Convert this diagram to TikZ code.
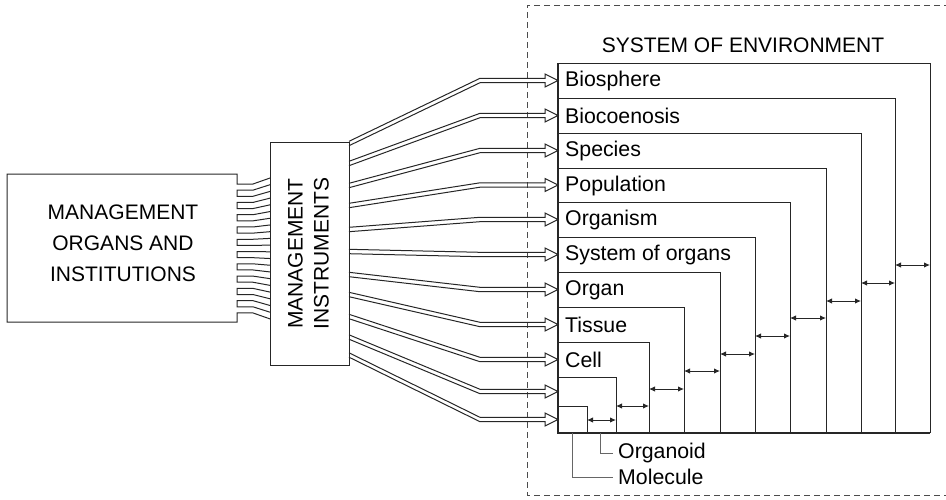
\documentclass[tikz,border=0pt]{standalone}
\usepackage{fontspec}
\setmainfont{Liberation Sans}
\usetikzlibrary{arrows.meta}
\begin{document}
\begin{tikzpicture}[x=1pt,y=-1pt,
  wire/.style={line width=1pt, line join=miter, black!85},
  lbl/.style={font=\fontsize{21}{25}\selectfont, inner sep=0pt, text=black},
  rowlbl/.style={lbl, font=\fontsize{21.3}{25}\selectfont},
  gaparrow/.style={line width=1pt, black!85,
    {Latex[length=6pt,width=5.5pt]}-{Latex[length=6pt,width=5.5pt]}},
  leader/.style={line width=0.9pt, black!60},
  envframe/.style={line width=0.8pt, black!70, dash pattern=on 6pt off 4pt}]
\useasboundingbox (0,0) rectangle (946,499);

% ---------- environment frame (open to the right) ----------
\draw[envframe] (970,5) -- (527,5) -- (527,495) -- (970,495);
\node[lbl] (envtitle) at (743,45) {SYSTEM OF ENVIRONMENT};

% ---------- nested levels of organisation ----------
\foreach \t/\r/\lab [count=\i] in {63/930/Biosphere, 98/895/Biocoenosis,
    133/861/Species, 168/826/Population, 202/790/Organism,
    237/755/System of organs, 272/720/Organ, 307/684/Tissue,
    342/649/Cell, 377/616/{}, 406/587/{}}{
  \draw[wire] (558,\t) -| (\r,433);
  \coordinate (lev\i) at (\r,433);
  \node[rowlbl, anchor=west] (row\i) at (565,\t+18) {\lab};
}
\draw[line width=2pt, black!85] (558,63) -- (558,433) -- (930,433);

% arrows between neighbouring levels
\foreach \a/\b/\y in {587/616/420, 616/649/406, 649/684/389, 684/720/371,
    720/755/354, 755/790/336, 790/826/318, 826/861/301, 861/895/283,
    895/930/265}{
  \coordinate (ga) at (\a,\y);
  \coordinate (gb) at (\b,\y);
  \draw[gaparrow] (ga) -- (gb);
}

% leaders to the two smallest levels
\coordinate (orgd) at (600,433);
\coordinate (molc) at (572,433);
\node[rowlbl, anchor=west] (organoid) at (618,453) {Organoid};
\node[rowlbl, anchor=west] (molecule) at (618,477) {Molecule};
\draw[leader, shorten >=5pt] (orgd) |- (organoid.west);
\draw[leader, shorten >=5pt] (molc) |- (molecule.west);

% ---------- management instruments ----------
\node[draw, line width=1pt, black!85, minimum width=79pt, minimum height=223pt,
  inner sep=0pt] (instr) at (309.5,253.5) {};
\node[lbl, rotate=90, align=center, font=\fontsize{21}{26}\selectfont]
  (instrtext) at (308.5,253.5) {MANAGEMENT\\INSTRUMENTS};

% hollow double arrows from the instruments to every level
\foreach \s/\e in {143.5/80.5, 163.5/115.5, 185.5/150.5, 205.5/185,
    229.5/219.5, 251.5/254.5, 274.5/289.5, 294.5/324.5, 316.5/359.5,
    337/391.5, 355/419.5}{
  \draw[wire] (349,\s-2.2) -- (480,\e-2.2) -- (545,\e-2.2) -- (545,\e-6.5)
    -- (558,\e) -- (545,\e+6.5) -- (545,\e+2.2) -- (480,\e+2.2)
    -- (349,\s+2.2);
}

% ---------- management organs and institutions ----------
\node[lbl, align=center, font=\fontsize{21}{31}\selectfont] (organs)
  at (123,243) {MANAGEMENT\\ORGANS AND\\INSTITUTIONS};

% outline with eleven channels leading into the instruments box
\pgfmathsetmacro\lt{184}
\pgfmathsetmacro\rt{178}
\draw[wire] (270,\rt) -- (253,\lt) -- (237,\lt) -- (237,174) -- (7,174)
  -- (7,322) -- (237,322) -- (237,\lt+12.28*10+6.14) -- (253,\lt+12.28*10+6.14)
  -- (270,\rt+13.42*10+6.71);
\foreach \k in {0,...,9}{
  \pgfmathsetmacro\lb{\lt+12.28*\k+6.14}
  \pgfmathsetmacro\la{\lt+12.28*(\k+1)}
  \pgfmathsetmacro\rb{\rt+13.42*\k+6.71}
  \pgfmathsetmacro\ra{\rt+13.42*(\k+1)}
  \draw[wire] (270,\rb) -- (253,\lb) -- (237,\lb) -- (237,\la) -- (253,\la)
    -- (270,\ra);
}
\end{tikzpicture}
\end{document}
